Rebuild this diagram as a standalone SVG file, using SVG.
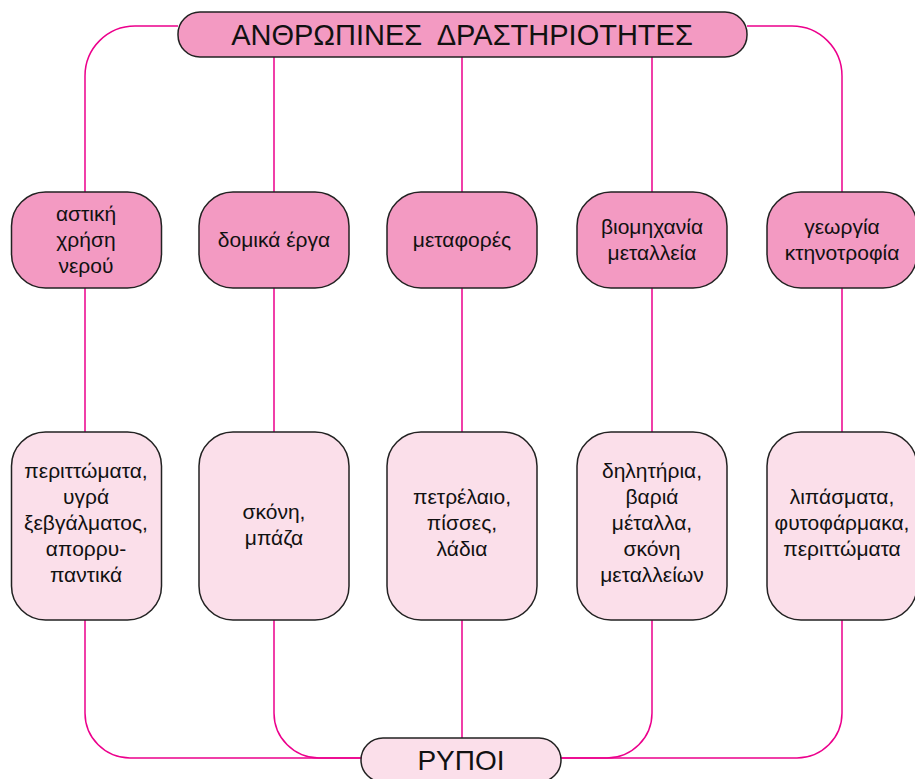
<svg xmlns="http://www.w3.org/2000/svg" width="915" height="779" viewBox="0 0 915 779">
<style>
.con{fill:none;stroke:#ec008c;stroke-width:1.5}
.dark{fill:#f39ac2;stroke:#222;stroke-width:1.5}
.light{fill:#fbdfea;stroke:#222;stroke-width:1.5}
text{font-family:"Liberation Sans",Arial,sans-serif;fill:#111;text-anchor:middle}
.t{font-size:21px}
.h{font-size:29px}
.r{font-size:28px}
</style>
<rect width="915" height="779" fill="#fff"/>
<g id="connectors">
<path class="con" d="M178,26 H135 A50,50 0 0 0 85,76 V192 M85,288 V432 M85,620 V713 A45,45 0 0 0 130,758 H361"/>
<path class="con" d="M274,57 V192 M274,288 V432 M274,620 V713 A45,45 0 0 0 319,758 H361"/>
<path class="con" d="M462,57 V192 M462,288 V432 M462,620 V738"/>
<path class="con" d="M652,57 V192 M652,288 V432 M652,620 V713 A45,45 0 0 1 607,758 H561"/>
<path class="con" d="M747,26 H792 A50,50 0 0 1 842,76 V192 M842,288 V432 M842,620 V713 A45,45 0 0 1 797,758 H561"/>
</g>
<g id="top">
<rect class="dark" x="178" y="12" width="569" height="45" rx="22"/>
<text class="h" x="462" y="45" xml:space="preserve">ΑΝΘΡΩΠΙΝΕΣ  ΔΡΑΣΤΗΡΙΟΤΗΤΕΣ</text>
</g>
<g id="a1">
<rect class="dark" x="11.5" y="192" width="150" height="96" rx="34"/>
<text class="t" x="86"><tspan x="86" y="221">αστική</tspan><tspan x="86" y="247">χρήση</tspan><tspan x="86" y="273">νερού</tspan></text>
</g>
<g id="a2">
<rect class="dark" x="199" y="192" width="150" height="96" rx="34"/>
<text class="t" x="274" y="247">δομικά έργα</text>
</g>
<g id="a3">
<rect class="dark" x="387" y="192" width="150" height="96" rx="34"/>
<text class="t" x="462" y="247">μεταφορές</text>
</g>
<g id="a4">
<rect class="dark" x="577" y="192" width="150" height="96" rx="34"/>
<text class="t"><tspan x="652" y="234">βιομηχανία</tspan><tspan x="652" y="260">μεταλλεία</tspan></text>
</g>
<g id="a5">
<rect class="dark" x="767" y="192" width="150" height="96" rx="34"/>
<text class="t"><tspan x="842" y="234">γεωργία</tspan><tspan x="842" y="260">κτηνοτροφία</tspan></text>
</g>
<g id="b1">
<rect class="light" x="11.5" y="432" width="150" height="188" rx="34"/>
<text class="t"><tspan x="86" y="478">περιττώματα,</tspan><tspan x="86" y="504">υγρά</tspan><tspan x="86" y="530">ξεβγάλματος,</tspan><tspan x="86" y="556">απορρυ-</tspan><tspan x="86" y="582">παντικά</tspan></text>
</g>
<g id="b2">
<rect class="light" x="199" y="432" width="150" height="188" rx="34"/>
<text class="t"><tspan x="274" y="519">σκόνη,</tspan><tspan x="274" y="545">μπάζα</tspan></text>
</g>
<g id="b3">
<rect class="light" x="387" y="432" width="150" height="188" rx="34"/>
<text class="t"><tspan x="462" y="504">πετρέλαιο,</tspan><tspan x="462" y="530">πίσσες,</tspan><tspan x="462" y="556">λάδια</tspan></text>
</g>
<g id="b4">
<rect class="light" x="577" y="432" width="150" height="188" rx="34"/>
<text class="t"><tspan x="652" y="478">δηλητήρια,</tspan><tspan x="652" y="504">βαριά</tspan><tspan x="652" y="530">μέταλλα,</tspan><tspan x="652" y="556">σκόνη</tspan><tspan x="652" y="582">μεταλλείων</tspan></text>
</g>
<g id="b5">
<rect class="light" x="767" y="432" width="150" height="188" rx="34"/>
<text class="t"><tspan x="842" y="504">λιπάσματα,</tspan><tspan x="842" y="530">φυτοφάρμακα,</tspan><tspan x="842" y="556">περιττώματα</tspan></text>
</g>
<g id="bottom">
<rect class="light" x="361" y="738" width="200" height="44" rx="22"/>
<text class="r" x="461" y="770">ΡΥΠΟΙ</text>
</g>
</svg>
